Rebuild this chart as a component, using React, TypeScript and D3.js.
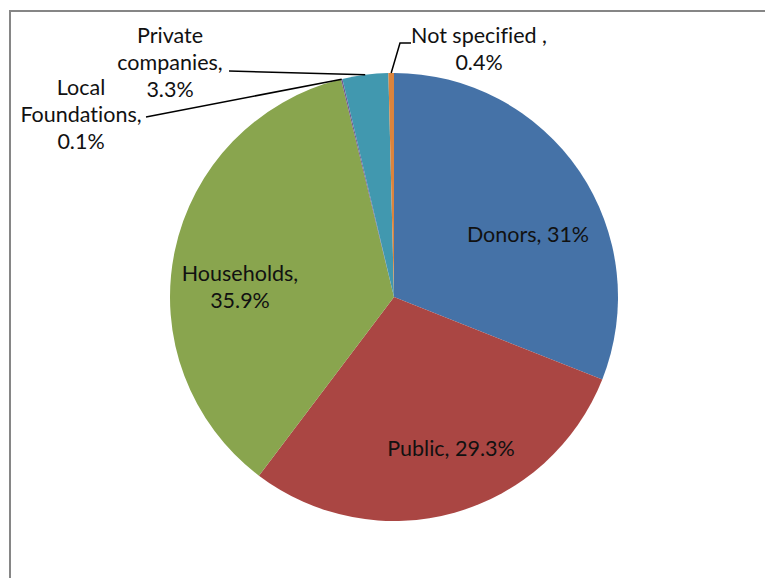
import React from "react";
import * as d3 from "d3";

const categories = ["Donors", "Public", "Households", "Local Foundations", "Private companies", "Not specified"];
const values = [31, 29.3, 35.9, 0.1, 3.3, 0.4];
const valueLabels = ["31%", "29.3%", "35.9%", "0.1%", "3.3%", "0.4%"];
const colors = ["#4572A7", "#AA4643", "#89A54E", "#71588F", "#4198AF", "#DB843D"];

const W = 765;
const H = 578;
const CX = 394;
const CY = 297;
const R = 224;
const FONT = "Lato, 'Open Sans', sans-serif";
const FS = 21.5;
const LH = 27;

// label layout: anchor center, lines, optional leader
type LabelLayout = { x: number; y: number; lines: string[]; leader?: [number, number][] };

export default function App() {
  const pie = d3.pie<number>().sort(null).value((d) => d);
  const arcs = pie(values);
  const arc = d3.arc<d3.PieArcDatum<number>>().innerRadius(0).outerRadius(R);
  const edge = (i: number) => {
    const a = (arcs[i].startAngle + arcs[i].endAngle) / 2;
    return [CX + R * Math.sin(a), CY - R * Math.cos(a)] as [number, number];
  };

  const labels: LabelLayout[] = [
    { x: 528, y: 242, lines: [`${categories[0]}, ${valueLabels[0]}`] },
    { x: 451, y: 456, lines: [`${categories[1]}, ${valueLabels[1]}`] },
    { x: 240, y: 281, lines: [`${categories[2]},`, valueLabels[2]] },
    { x: 81, y: 95, lines: ["Local", "Foundations,", valueLabels[3]], leader: [[146, 117], edge(3)] },
    { x: 170, y: 43, lines: ["Private", "companies,", valueLabels[4]], leader: [[229, 71], edge(4)] },
    { x: 479, y: 43, lines: [`${categories[5]} ,`, valueLabels[5]], leader: [[411, 43], [400, 43], edge(5)] },
  ];

  const line = d3.line();

  return (
    <svg width={W} height={H} style={{ position: "absolute", left: 0, top: 0, background: "#fff" }}>
      <rect x={0} y={0} width={W} height={H} fill="#fff" />
      <rect x={10} y={11} width={W + 20} height={H + 20} fill="none" stroke="#868686" strokeWidth={2} />
      <g transform={`translate(${CX},${CY})`}>
        {arcs.map((a, i) => (
          <path key={i} d={arc(a) || ""} fill={colors[i]} />
        ))}
      </g>
      {labels.map((l, i) =>
        l.leader ? (
          <path key={"ld" + i} d={line(l.leader) || ""} fill="none" stroke="#000" strokeWidth={1.5} />
        ) : null
      )}
      {labels.map((l, i) => (
        <text
          key={"t" + i}
          x={l.x}
          y={l.y}
          textAnchor="middle"
          fontFamily={FONT}
          fontSize={FS}
          fill="#111"
          style={{ fontVariantLigatures: "none", fontFeatureSettings: "'liga' 0" }}
        >
          {l.lines.map((s, j) => (
            <tspan key={j} x={l.x} y={l.y + j * LH}>
              {s}
            </tspan>
          ))}
        </text>
      ))}
    </svg>
  );
}
